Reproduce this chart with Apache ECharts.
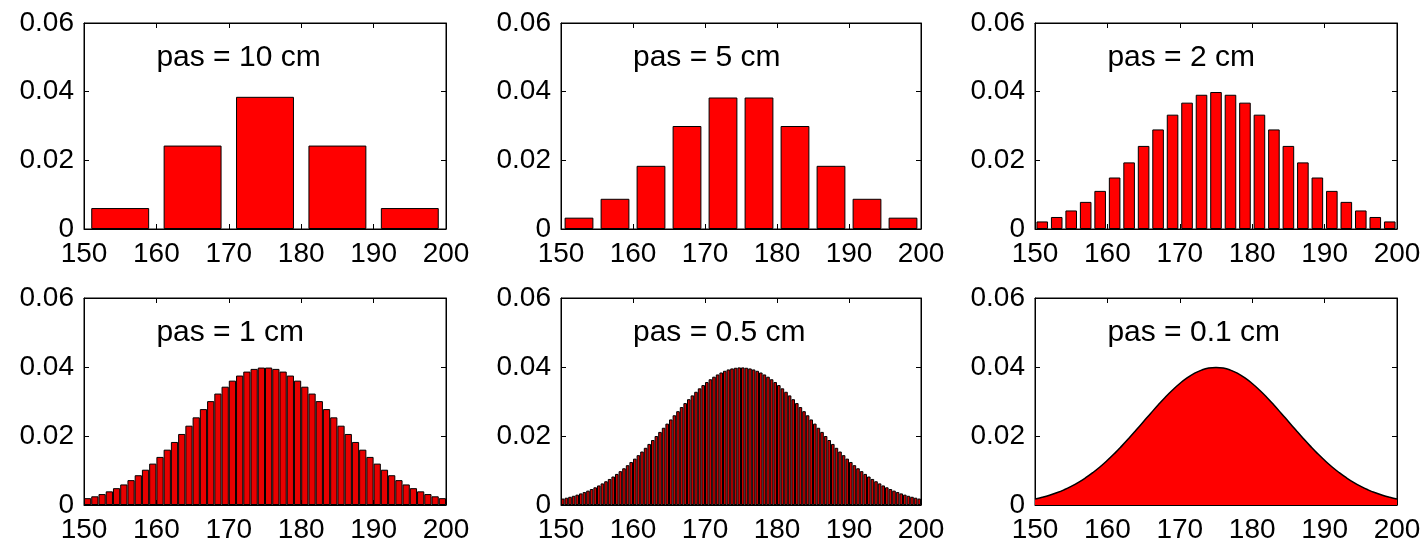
<!DOCTYPE html>
<html>
<head>
<meta charset="utf-8">
<script src="https://cdn.jsdelivr.net/npm/echarts@6/dist/echarts.min.js"></script>
<style>
  html, body { margin: 0; padding: 0; background: #fff; }
  #main { width: 1425px; height: 546px; }
</style>
</head>
<body>
<div id="main"></div>
<script>
// tick labels shared by every panel
var xTicks = [150, 160, 170, 180, 190, 200];
var yTicks = [0, 0.02, 0.04, 0.06];

var titles = ['pas = 10 cm', 'pas = 5 cm', 'pas = 2 cm', 'pas = 1 cm', 'pas = 0.5 cm', 'pas = 0.1 cm'];

// bin heights (150 -> 200)
var pas10 = [0.0061, 0.0243, 0.0385, 0.0243, 0.0061];

var pas5 = [0.0033, 0.0088, 0.0184, 0.0300, 0.0383, 0.0383, 0.0300, 0.0184, 0.0088, 0.0033];

var pas2 = [0.0022, 0.0035, 0.0054, 0.0079, 0.0111, 0.0150, 0.0194, 0.0242, 0.0290, 0.0333, 0.0368, 0.0391, 0.0399,
            0.0391, 0.0368, 0.0333, 0.0290, 0.0242, 0.0194, 0.0150, 0.0111, 0.0079, 0.0054, 0.0035, 0.0022];

var pas1 = [0.00198, 0.00252, 0.00317, 0.00396, 0.00488, 0.00596, 0.00721, 0.00863, 0.01023, 0.01200,
            0.01394, 0.01604, 0.01827, 0.02059, 0.02299, 0.02541, 0.02780, 0.03011, 0.03230, 0.03429,
            0.03605, 0.03752, 0.03867, 0.03945, 0.03984, 0.03984, 0.03945, 0.03867, 0.03752, 0.03605,
            0.03429, 0.03230, 0.03011, 0.02780, 0.02541, 0.02299, 0.02059, 0.01827, 0.01604, 0.01394,
            0.01200, 0.01023, 0.00863, 0.00721, 0.00596, 0.00488, 0.00396, 0.00317, 0.00252, 0.00198];

var pas05 = [0.00187, 0.00211, 0.00238, 0.00267, 0.00300, 0.00336, 0.00375, 0.00417, 0.00463, 0.00513,
             0.00567, 0.00626, 0.00688, 0.00755, 0.00826, 0.00901, 0.00981, 0.01065, 0.01154, 0.01247,
             0.01344, 0.01445, 0.01550, 0.01658, 0.01770, 0.01884, 0.02000, 0.02119, 0.02239, 0.02359,
             0.02480, 0.02601, 0.02720, 0.02839, 0.02954, 0.03067, 0.03177, 0.03282, 0.03382, 0.03476,
             0.03564, 0.03645, 0.03719, 0.03784, 0.03841, 0.03890, 0.03929, 0.03958, 0.03978, 0.03988,
             0.03988, 0.03978, 0.03958, 0.03929, 0.03890, 0.03841, 0.03784, 0.03719, 0.03645, 0.03564,
             0.03476, 0.03382, 0.03282, 0.03177, 0.03067, 0.02954, 0.02839, 0.02720, 0.02601, 0.02480,
             0.02359, 0.02239, 0.02119, 0.02000, 0.01884, 0.01770, 0.01658, 0.01550, 0.01445, 0.01344,
             0.01247, 0.01154, 0.01065, 0.00981, 0.00901, 0.00826, 0.00755, 0.00688, 0.00626, 0.00567,
             0.00513, 0.00463, 0.00417, 0.00375, 0.00336, 0.00300, 0.00267, 0.00238, 0.00211, 0.00187];

// pas = 0.1 cm is so fine it reads as a curve : height at every whole cm 150..200
var pas01 = [0.00175, 0.00224, 0.00283, 0.00355, 0.00440, 0.00540, 0.00656, 0.00790, 0.00941, 0.01109,
             0.01295, 0.01497, 0.01714, 0.01942, 0.02179, 0.02420, 0.02661, 0.02897, 0.03123, 0.03332,
             0.03521, 0.03683, 0.03814, 0.03910, 0.03970, 0.03989, 0.03970, 0.03910, 0.03814, 0.03683,
             0.03521, 0.03332, 0.03123, 0.02897, 0.02661, 0.02420, 0.02179, 0.01942, 0.01714, 0.01497,
             0.01295, 0.01109, 0.00941, 0.00790, 0.00656, 0.00540, 0.00440, 0.00355, 0.00283, 0.00224, 0.00175];

var panels = [pas10, pas5, pas2, pas1, pas05, pas01];
var gaps = ['20%', '20%', '20%', '0%', '0%', null];
var fills = ['#ff0000', '#ff0000', '#ff0000', '#e80000', '#c80000', '#ff0000'];

var FONT = "'Liberation Sans', Arial, sans-serif";
var lefts = [84, 561, 1035];
var widths = [362, 360, 362];
var tops = [23, 298];
var heights = [206, 207];

var grid = [], xAxis = [], yAxis = [], series = [];

for (var i = 0; i < 6; i++) {
    var col = i % 3, row = Math.floor(i / 3);
    grid.push({
        left: lefts[col], top: tops[row], width: widths[col], height: heights[row],
        show: true, borderColor: '#000', borderWidth: 1, backgroundColor: '#fff'
    });
    // hidden category axis, one slot per bin
    xAxis.push({
        type: 'category', gridIndex: i, show: false,
        boundaryGap: i != 5
    });
    // visible cm axis bottom + top
    xAxis.push({
        type: 'value', gridIndex: i, position: 'bottom',
        min: xTicks[0], max: xTicks[xTicks.length - 1], interval: 10,
        axisLine: { show: true, lineStyle: { color: '#000', width: 1 } },
        axisTick: { show: true, inside: true, length: 5, lineStyle: { color: '#000' } },
        axisLabel: { show: true, color: '#000', fontSize: 28, fontFamily: FONT, margin: 11 },
        splitLine: { show: false }
    });
    xAxis.push({
        type: 'value', gridIndex: i, position: 'top',
        min: xTicks[0], max: xTicks[xTicks.length - 1], interval: 10,
        axisLine: { show: true, lineStyle: { color: '#000', width: 1 } },
        axisTick: { show: true, inside: true, length: 5, lineStyle: { color: '#000' } },
        axisLabel: { show: false },
        splitLine: { show: false }
    });
    yAxis.push({
        type: 'value', gridIndex: i, position: 'left',
        min: yTicks[0], max: yTicks[yTicks.length - 1], interval: 0.02,
        axisLine: { show: true, lineStyle: { color: '#000', width: 1 } },
        axisTick: { show: true, inside: true, length: 5, lineStyle: { color: '#000' } },
        axisLabel: { show: true, color: '#000', fontSize: 28, fontFamily: FONT, margin: 10 },
        splitLine: { show: false }
    });
    yAxis.push({
        type: 'value', gridIndex: i, position: 'right',
        min: yTicks[0], max: yTicks[yTicks.length - 1], interval: 0.02,
        axisLine: { show: true, lineStyle: { color: '#000', width: 1 } },
        axisTick: { show: true, inside: true, length: 5, lineStyle: { color: '#000' } },
        axisLabel: { show: false },
        splitLine: { show: false }
    });

    if (i < 5) {
        series.push({
            type: 'bar', xAxisIndex: 3 * i, yAxisIndex: 2 * i,
            data: panels[i], barCategoryGap: gaps[i],
            itemStyle: { color: fills[i], borderColor: '#000', borderWidth: 1 },
            silent: true
        });
    } else {
        series.push({
            type: 'line', xAxisIndex: 3 * i, yAxisIndex: 2 * i,
            data: panels[i], smooth: true, symbol: 'none',
            lineStyle: { color: '#000', width: 1.5 },
            areaStyle: { color: fills[i], opacity: 1 },
            silent: true
        });
    }
}

var chart = echarts.init(document.getElementById('main'));
chart.setOption({
    animation: false,
    backgroundColor: '#fff',
    grid: grid,
    xAxis: xAxis,
    yAxis: yAxis,
    series: series
});

// panel captions, anchored at (160 cm, 0.05) through each panel's scales
var texts = [];
for (var k = 0; k < 6; k++) {
    var p = chart.convertToPixel({ xAxisIndex: 3 * k + 1, yAxisIndex: 2 * k }, [160, 0.05]);
    texts.push({
        type: 'text', x: p[0], y: p[1], silent: true,
        style: {
            text: titles[k], fill: '#000', font: '30px ' + FONT,
            textAlign: 'left', textVerticalAlign: 'middle'
        }
    });
}
chart.setOption({ graphic: texts });
</script>
</body>
</html>
